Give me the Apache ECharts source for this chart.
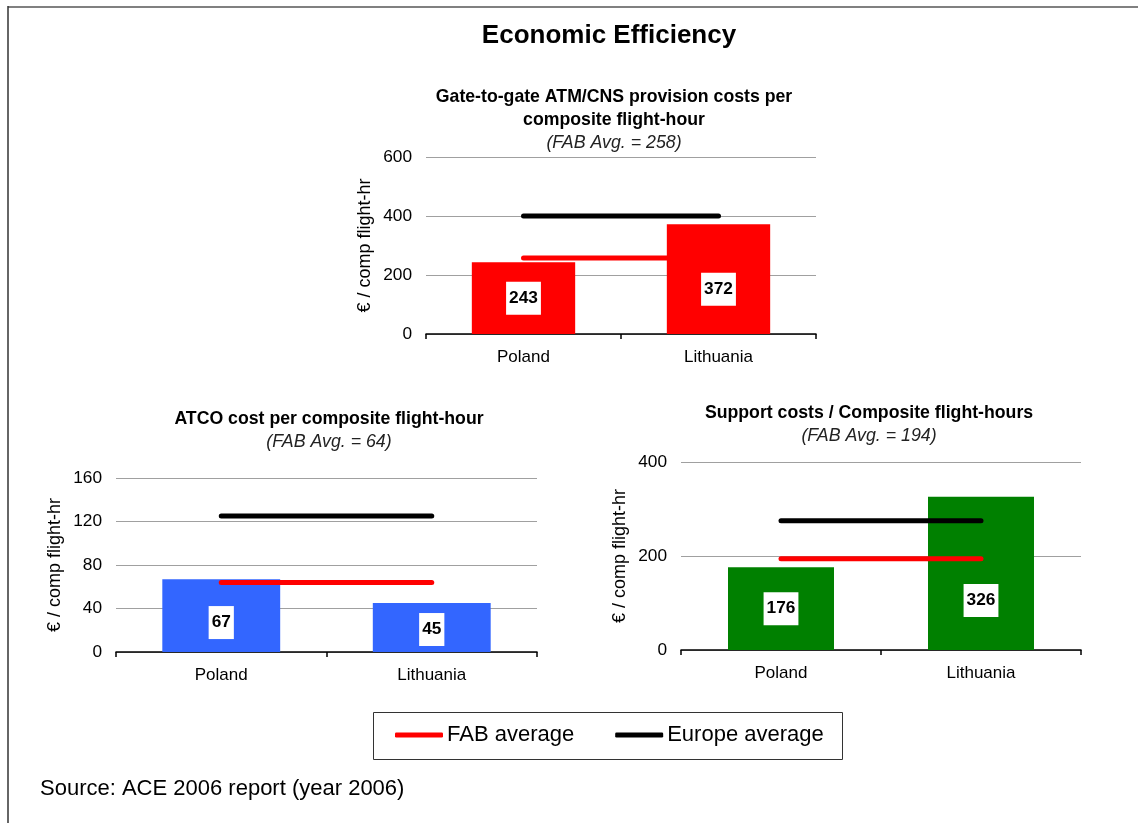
<!DOCTYPE html>
<html>
<head>
<meta charset="utf-8">
<title>Economic Efficiency</title>
<script src="https://cdn.jsdelivr.net/npm/echarts@6/dist/echarts.min.js"></script>
<style>
  html, body { margin: 0; padding: 0; background: #fff; }
  #chart { width: 1138px; height: 823px; }
</style>
</head>
<body>
<div id="chart"></div>
<script>
// Countries compared in each panel
const categories = ['Poland', 'Lithuania'];

// Gate-to-gate ATM/CNS provision costs per composite flight-hour (EUR)
const gateToGateCosts = [243, 372];
const gateToGateFabAvg = 258;
const gateToGateEuropeAvg = 400;

// ATCO cost per composite flight-hour (EUR)
const atcoCosts = [67, 45];
const atcoFabAvg = 64;
const atcoEuropeAvg = 125;

// Support costs per composite flight-hour (EUR)
const supportCosts = [176, 326];
const supportFabAvg = 194;
const supportEuropeAvg = 275;

// Value axis ranges: [max, interval]
const gateToGateAxis = [600, 200];
const atcoAxis = [160, 40];
const supportAxis = [400, 200];

const FONT = '"Liberation Sans", Arial, sans-serif';
const AXIS_NAME = '€ / comp flight-hr';

const panels = [
  {
    title: 'Gate-to-gate ATM/CNS provision costs per\ncomposite flight-hour',
    subtitle: '(FAB Avg. = ' + gateToGateFabAvg + ')',
    titleX: 614, titleTop: 86,
    grid: { left: 426, top: 157, width: 390, height: 177 },
    axis: gateToGateAxis,
    values: gateToGateCosts, fab: gateToGateFabAvg, europe: gateToGateEuropeAvg,
    barColor: '#ff0000', barWidth: '53%',
    labelOffsets: [[0, 0], [0, 10]],
    fabBehindBars: true
  },
  {
    title: 'ATCO cost per composite flight-hour',
    subtitle: '(FAB Avg. = ' + atcoFabAvg + ')',
    titleX: 329, titleTop: 408,
    grid: { left: 116, top: 478, width: 421, height: 174 },
    axis: atcoAxis,
    values: atcoCosts, fab: atcoFabAvg, europe: atcoEuropeAvg,
    barColor: '#3366ff', barWidth: '56%',
    labelOffsets: [[0, 7], [0, 2]],
    fabBehindBars: false
  },
  {
    title: 'Support costs / Composite flight-hours',
    subtitle: '(FAB Avg. = ' + supportFabAvg + ')',
    titleX: 869, titleTop: 402,
    grid: { left: 681, top: 462, width: 400, height: 188 },
    axis: supportAxis,
    values: supportCosts, fab: supportFabAvg, europe: supportEuropeAvg,
    barColor: '#008000', barWidth: '53%',
    labelOffsets: [[0, 0], [0, 27]],
    fabBehindBars: false
  }
];

const titles = [{
  text: 'Economic Efficiency',
  left: 609, top: 23, textAlign: 'center', padding: 0,
  textStyle: { fontFamily: FONT, fontSize: 26, fontWeight: 'bold', color: '#000', lineHeight: 26 }
}];
const grids = [], xAxes = [], yAxes = [], series = [];

panels.forEach((p, i) => {
  titles.push({
    text: p.title,
    subtext: p.subtitle,
    left: p.titleX, top: p.titleTop, textAlign: 'center', padding: 0, itemGap: 0,
    textStyle: { fontFamily: FONT, fontSize: 17.7, fontWeight: 'bold', color: '#000', lineHeight: 23 },
    subtextStyle: { fontFamily: FONT, fontSize: 17.8, fontStyle: 'italic', color: '#222', lineHeight: 22 }
  });
  grids.push(Object.assign({ containLabel: false }, p.grid));
  xAxes.push({
    type: 'category', gridIndex: i, data: categories,
    axisLine: { lineStyle: { color: '#000', width: 1.5 } },
    axisTick: { show: true, length: 5, lineStyle: { color: '#000', width: 1.5 } },
    axisLabel: { fontFamily: FONT, fontSize: 17, color: '#000', margin: 15 },
    splitLine: { show: false }
  });
  yAxes.push({
    type: 'value', gridIndex: i, min: 0, max: p.axis[0], interval: p.axis[1],
    name: AXIS_NAME, nameLocation: 'middle', nameGap: 52, nameRotate: 90,
    nameTextStyle: { fontFamily: FONT, fontSize: 18, color: '#000' },
    axisLine: { show: false }, axisTick: { show: false },
    axisLabel: { fontFamily: FONT, fontSize: 17.3, color: '#000', margin: 14 },
    splitLine: { lineStyle: { color: '#a0a0a0', width: 1.2 } }
  });
  series.push({
    type: 'bar', xAxisIndex: i, yAxisIndex: i, z: 3,
    barWidth: p.barWidth,
    itemStyle: { color: p.barColor },
    data: p.values.map((v, k) => ({
      value: v,
      label: { offset: p.labelOffsets[k] }
    })),
    label: {
      show: true, position: 'inside',
      fontFamily: FONT, fontSize: 17.3, fontWeight: 'bold', color: '#000',
      backgroundColor: '#fff', padding: [8, 3], lineHeight: 17
    }
  });
  const avgLine = (name, value, color, z) => ({
    type: 'line', name, xAxisIndex: i, yAxisIndex: i, z,
    data: categories.map(() => value),
    showSymbol: false, symbol: 'none', silent: true,
    color,
    lineStyle: { color, width: 5, cap: 'round' }
  });
  series.push(avgLine('FAB average', p.fab, '#ff0000', p.fabBehindBars ? 2 : 4));
  series.push(avgLine('Europe average', p.europe, '#000000', 5));
});

const chart = echarts.init(document.getElementById('chart'), null, { renderer: 'canvas' });
chart.setOption({
  backgroundColor: '#fff',
  animation: false,
  title: titles,
  grid: grids,
  xAxis: xAxes,
  yAxis: yAxes,
  series,
  legend: {
    data: ['FAB average', 'Europe average'],
    left: 395, top: 724,
    padding: 0,
    icon: 'roundRect',
    itemWidth: 48, itemHeight: 5,
    itemGap: 41,
    textStyle: { fontFamily: FONT, fontSize: 22, color: '#000', padding: [0, 0, 0, -1] },
    selectedMode: false
  },
  graphic: [
    // outer frame: top rule and left rule
    { type: 'line', silent: true, shape: { x1: 8, y1: 7, x2: 1138, y2: 7 }, style: { stroke: '#808080', lineWidth: 2 } },
    { type: 'line', silent: true, shape: { x1: 8, y1: 6, x2: 8, y2: 823 }, style: { stroke: '#333', lineWidth: 1.5 } },
    // legend box
    { type: 'rect', silent: true, z: -1, shape: { x: 373.5, y: 712.5, width: 469, height: 47 }, style: { fill: '#fff', stroke: '#333', lineWidth: 1 } },
    // source note
    { type: 'text', silent: true, left: 40, top: 778, style: { text: 'Source: ACE 2006 report (year 2006)', fontFamily: FONT, fontSize: 22, fill: '#000' } }
  ]
});
</script>
</body>
</html>
